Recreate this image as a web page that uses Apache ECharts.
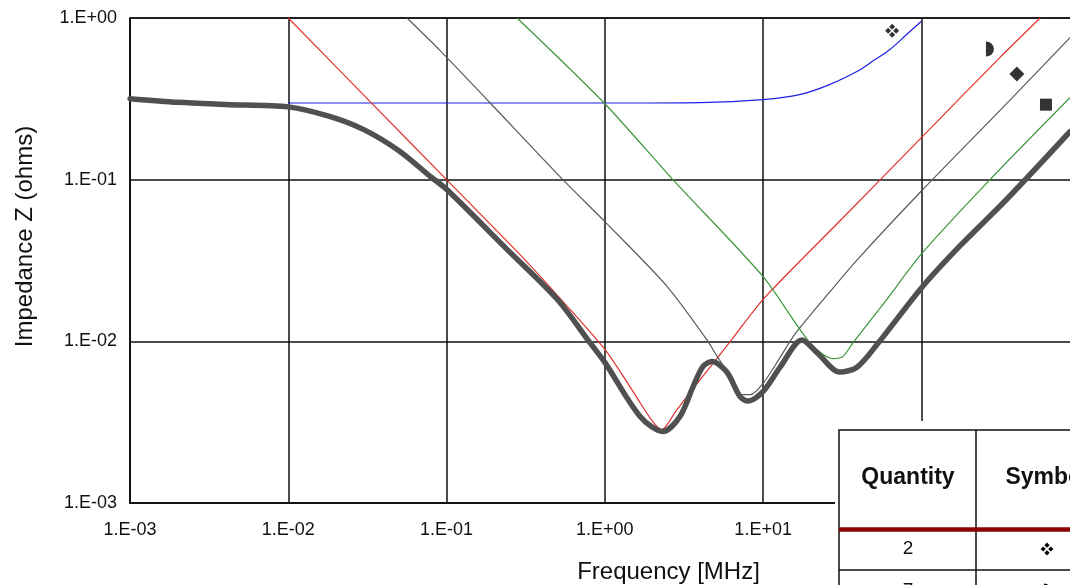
<!DOCTYPE html>
<html>
<head>
<meta charset="utf-8">
<title>Impedance vs frequency</title>
<script src="https://cdn.jsdelivr.net/npm/echarts@6.0.0/dist/echarts.min.js"></script>
<style>
  html, body { margin: 0; padding: 0; background: #fff; }
  #chart { width: 1070px; height: 585px; }
</style>
</head>
<body>
<div id="chart"></div>
<script>
// values (frequency in MHz, impedance in ohms)
const blueFreq = [0.01, 0.1, 1, 4, 10, 17, 26, 41, 50, 63, 80, 100];
const blueZ = [0.298, 0.298, 0.298, 0.300, 0.313, 0.336, 0.386, 0.479, 0.547, 0.637, 0.785, 0.955];

const redFreq = [0.01, 0.0316, 0.1, 0.316, 0.562, 1, 1.37, 1.67, 2.02, 2.29, 2.82, 3.98, 6.31, 10, 31.6, 100, 316, 562];
const redZ = [1.0, 0.316, 0.1, 0.0316, 0.017, 0.00891, 0.00566, 0.00417, 0.00316, 0.00284, 0.00372, 0.00575, 0.0102, 0.0182, 0.0575, 0.182, 0.575, 1.0];

const grayFreq = [0.0562, 0.0908, 0.188, 0.543, 1, 2.47, 4.42, 5.1, 6.17, 7.24, 8.32, 10, 12.6, 15.8, 25.1, 39.8, 100, 316, 871];
const grayZ = [1.0, 0.631, 0.299, 0.1, 0.055, 0.0219, 0.0102, 0.00813, 0.00608, 0.00468, 0.00468, 0.0055, 0.00776, 0.011, 0.0191, 0.0324, 0.0851, 0.27, 0.759];

const greenFreq = [0.279, 1, 2.69, 10, 19.8, 27.5, 31.9, 36.9, 60.5, 100, 271, 867];
const greenZ = [1.0, 0.295, 0.1, 0.0251, 0.00977, 0.00782, 0.00804, 0.00977, 0.0182, 0.0347, 0.1, 0.321];

const totalFreq = [0.001, 0.002, 0.004, 0.01, 0.018, 0.03, 0.05, 0.08, 0.1, 0.24, 0.5, 0.8, 1, 1.67, 2.33, 2.98, 3.61, 4.17, 4.75, 5.9, 7.13, 8.02, 10, 12.8, 17.6, 21.9, 30.5, 39.2, 52.4, 100, 175, 347, 867];
const totalZ = [0.317, 0.301, 0.292, 0.282, 0.247, 0.204, 0.151, 0.1035, 0.0871, 0.0372, 0.0182, 0.00989, 0.00741, 0.00343, 0.00277, 0.00343, 0.00525, 0.0070, 0.0075, 0.00646, 0.00457, 0.00427, 0.0049, 0.00692, 0.0102, 0.00851, 0.00646, 0.00692, 0.00955, 0.0214, 0.0389, 0.0759, 0.198];

// curve marker symbols placed next to each curve
const markFreq = [65.3, 271, 401, 612];
const markZ = [0.834, 0.643, 0.451, 0.291];

// table rows (only the visible part)
const tableQuantity = ['2', '7'];

const xMin = 0.001;
const xMax = 6370;  // axis runs past the right edge of the picture
const yMin = 0.001;
const yMax = 1;

const FONT = "'Liberation Sans', Arial, Helvetica, sans-serif";

const pairs = (xs, ys) => xs.map((x, i) => [x, ys[i]]);
const sci = (v) => {
  const e = Math.round(Math.log10(v));
  return '1.E' + (e < 0 ? '-' : '+') + String(Math.abs(e)).padStart(2, '0');
};

const cloverPath = 'path://M7,0L10,3L7,6L4,3Z M14,7L11,10L8,7L11,4Z M7,14L4,11L7,8L10,11Z M0,7L3,4L6,7L3,10Z';
const halfMoonPath = 'path://M0,0A8,8 0 0 1 0,16Z';
const markSymbols = [cloverPath, halfMoonPath, 'diamond', 'rect'];
const markSizes = [14, [8, 15], 15, 12];

const chart = echarts.init(document.getElementById('chart'));

const thin = (color) => ({ color: color, width: 1.2 });
const centered = { align: 'center', verticalAlign: 'middle', textAlign: 'center', textVerticalAlign: 'middle' };

// small ❖ built from four diamonds, centred on (cx, cy)
const cloverShapes = (cx, cy) => [[0, -3.8], [3.8, 0], [0, 3.8], [-3.8, 0]].map(([dx, dy]) => ({
  type: 'polygon', z: 103,
  shape: { points: [[cx + dx, cy + dy - 2.6], [cx + dx + 2.6, cy + dy], [cx + dx, cy + dy + 2.6], [cx + dx - 2.6, cy + dy]] },
  style: { fill: '#000' }
}));

const tableRows = tableQuantity.flatMap((q, i) => {
  const cy = 549 + i * 42;
  const els = [{
    type: 'text', z: 103, x: 908, y: cy,
    style: Object.assign({ text: q, font: '19px ' + FONT, fill: '#111' }, centered)
  }];
  if (i === 0) {
    return els.concat(cloverShapes(1047, cy));
  }
  return els.concat([{
    type: 'sector', z: 103,
    shape: { cx: 1044, cy: cy, r0: 0, r: 7.5, startAngle: -Math.PI / 2, endAngle: Math.PI / 2, clockwise: true },
    style: { fill: '#000' }
  }]);
});

const option = {
  animation: false,
  backgroundColor: '#fff',
  grid: {
    left: 130,
    right: -137,
    top: 18,
    bottom: 82,
    show: true,
    borderColor: '#111',
    borderWidth: 1.5,
    containLabel: false,
    outerBoundsMode: 'none'
  },
  xAxis: {
    type: 'log',
    min: xMin,
    max: xMax,
    name: 'Frequency [MHz]',
    nameLocation: 'middle',
    nameGap: 57,
    nameTextStyle: { fontFamily: FONT, fontSize: 24, color: '#111' },
    axisLine: { lineStyle: { color: '#111', width: 1.5 } },
    axisTick: { show: false },
    axisLabel: {
      formatter: sci,
      fontFamily: FONT,
      fontSize: 18,
      color: '#111',
      margin: 18,
      showMaxLabel: false
    },
    splitLine: { show: true, lineStyle: { color: '#111', width: 1.5 } }
  },
  yAxis: {
    type: 'log',
    min: yMin,
    max: yMax,
    name: 'Impedance Z (ohms)',
    nameLocation: 'middle',
    nameGap: 93,
    nameTextStyle: { fontFamily: FONT, fontSize: 24, color: '#111', padding: [0, 0, 0, 48] },
    axisLine: { lineStyle: { color: '#111', width: 1.5 } },
    axisTick: { show: false },
    axisLabel: {
      formatter: sci,
      fontFamily: FONT,
      fontSize: 18,
      color: '#111',
      margin: 13
    },
    splitLine: { show: true, lineStyle: { color: '#111', width: 1.5 } }
  },
  series: [
    {
      type: 'line', name: 'blue', data: pairs(blueFreq, blueZ),
      showSymbol: false, smooth: 0.3, lineStyle: thin('#1f1fe6')
    },
    {
      type: 'line', name: 'red', data: pairs(redFreq, redZ),
      showSymbol: false, smooth: 0.25, lineStyle: thin('#e3312b')
    },
    {
      type: 'line', name: 'gray', data: pairs(grayFreq, grayZ),
      showSymbol: false, smooth: 0.25, lineStyle: thin('#5a5a5a')
    },
    {
      type: 'line', name: 'green', data: pairs(greenFreq, greenZ),
      showSymbol: false, smooth: 0.25, lineStyle: thin('#3a963a')
    },
    {
      type: 'line', name: 'total', data: pairs(totalFreq, totalZ),
      showSymbol: false, smooth: 0.3,
      lineStyle: { color: '#505050', width: 5.5, cap: 'round', join: 'round' }
    },
    {
      type: 'scatter', name: 'marks',
      data: markFreq.map((f, i) => ({
        value: [f, markZ[i]],
        symbol: markSymbols[i],
        symbolSize: markSizes[i]
      })),
      itemStyle: { color: '#000' },
      z: 5
    }
  ],
  graphic: [
    { type: 'rect', z: 100, shape: { x: 835, y: 421, width: 240, height: 170 }, style: { fill: '#fff' } },
    { type: 'rect', z: 101, shape: { x: 839, y: 430, width: 240, height: 170 }, style: { fill: 'none', stroke: '#111', lineWidth: 1.5 } },
    { type: 'line', z: 101, shape: { x1: 976, y1: 430, x2: 976, y2: 590 }, style: { stroke: '#111', lineWidth: 1.5 } },
    { type: 'line', z: 102, shape: { x1: 839, y1: 529.5, x2: 1075, y2: 529.5 }, style: { stroke: '#8b0000', lineWidth: 4.5 } },
    { type: 'line', z: 101, shape: { x1: 839, y1: 570, x2: 1075, y2: 570 }, style: { stroke: '#111', lineWidth: 1.5 } },
    {
      type: 'text', z: 103, x: 908, y: 478,
      style: Object.assign({ text: 'Quantity', font: 'bold 23px ' + FONT, fill: '#111' }, centered)
    },
    {
      type: 'text', z: 103, x: 1047, y: 478,
      style: Object.assign({ text: 'Symbol', font: 'bold 23px ' + FONT, fill: '#111' }, centered)
    }
  ].concat(tableRows)
};

chart.setOption(option);
</script>
</body>
</html>
